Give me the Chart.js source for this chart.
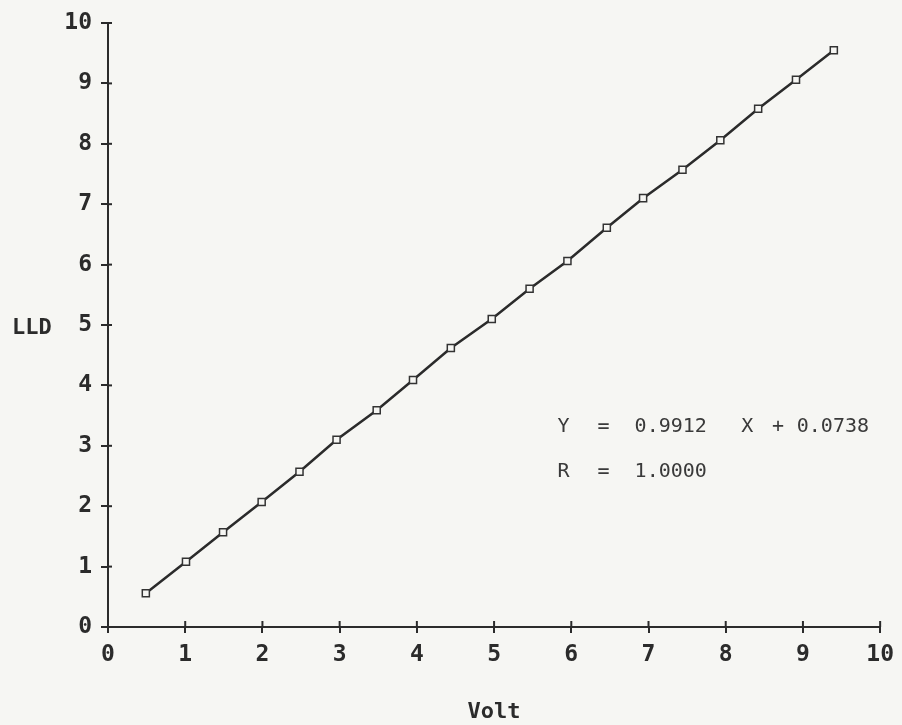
<!DOCTYPE html>
<html>
<head>
<meta charset="utf-8">
<script src="https://cdn.jsdelivr.net/npm/chart.js@4/dist/chart.umd.min.js"></script>
<style>
  html, body { margin: 0; padding: 0; background: #f6f6f3; }
  #wrap { width: 902px; height: 725px; position: relative; }
</style>
</head>
<body>
<div id="wrap"><canvas id="chart"></canvas></div>
<script>
// Volt vs LLD calibration points
const voltValues = [0.49, 1.01, 1.49, 1.99, 2.48, 2.96, 3.48, 3.95, 4.44, 4.97,
                    5.46, 5.95, 6.46, 6.93, 7.44, 7.93, 8.42, 8.91, 9.40];
const lldValues  = [0.56, 1.08, 1.57, 2.07, 2.57, 3.10, 3.59, 4.09, 4.62, 5.10,
                    5.60, 6.06, 6.61, 7.10, 7.57, 8.06, 8.58, 9.06, 9.55];
const tickValues = [0, 1, 2, 3, 4, 5, 6, 7, 8, 9, 10];

// fit result printed on the chart: [text, x value, y value]
const fitText = [
  ['Y', 5.82, 3.32], ['=', 6.34, 3.32], ['0.9912', 6.82, 3.32],
  ['X', 8.20, 3.32], ['+', 8.60, 3.32], ['0.0738', 8.92, 3.32],
  ['R', 5.82, 2.57], ['=', 6.34, 2.57], ['1.0000', 6.82, 2.57]
];

const ink = '#2b2b2b';
const tickFont = { family: 'DejaVu Sans Mono', size: 23, weight: 'bold' };

// inner half of the cross ticks, axis label LLD and the fit text
const extras = {
  id: 'extras',
  afterDraw(chart) {
    const ctx = chart.ctx;
    const xs = chart.scales.x, ys = chart.scales.y;
    ctx.save();
    ctx.strokeStyle = ink;
    ctx.lineWidth = 2;
    tickValues.forEach(v => {
      const px = xs.getPixelForValue(v);
      ctx.beginPath(); ctx.moveTo(px, xs.top); ctx.lineTo(px, xs.top - 6); ctx.stroke();
      const py = ys.getPixelForValue(v);
      ctx.beginPath(); ctx.moveTo(ys.right, py); ctx.lineTo(ys.right + 4, py); ctx.stroke();
    });

    ctx.fillStyle = ink;
    ctx.font = 'bold 22px "DejaVu Sans Mono"';
    ctx.textAlign = 'left';
    ctx.textBaseline = 'middle';
    ctx.fillText('LLD', 12, ys.getPixelForValue(5) + 3);

    ctx.fillStyle = '#3a3a3a';
    ctx.font = '20px "DejaVu Sans Mono"';
    fitText.forEach(([t, x, y]) => {
      ctx.fillText(t, xs.getPixelForValue(x), ys.getPixelForValue(y));
    });
    ctx.restore();
  }
};

new Chart(document.getElementById('chart'), {
  type: 'scatter',
  data: {
    datasets: [{
      data: voltValues.map((v, i) => ({ x: v, y: lldValues[i] })),
      showLine: true,
      borderColor: ink,
      borderWidth: 2.5,
      backgroundColor: '#f6f6f3',
      pointStyle: 'rect',
      pointRadius: 5,
      pointBorderWidth: 1.5,
      pointBorderColor: '#333'
    }]
  },
  options: {
    responsive: true,
    maintainAspectRatio: false,
    animation: false,
    layout: { padding: { top: 23, right: 21, left: 0, bottom: 0 } },
    plugins: { legend: { display: false }, tooltip: { enabled: false } },
    scales: {
      x: {
        type: 'linear',
        min: 0, max: 10,
        afterBuildTicks: s => { s.ticks = tickValues.map(v => ({ value: v })); },
        afterFit: s => { s.height = 98; },
        border: { display: true, color: ink, width: 2 },
        grid: { drawOnChartArea: false, drawTicks: true, tickLength: 6, color: ink, lineWidth: 2 },
        ticks: { color: ink, font: tickFont, padding: 8, maxRotation: 0 },
        title: {
          display: true, text: 'Volt', color: ink,
          font: { family: 'DejaVu Sans Mono', size: 22, weight: 'bold' },
          padding: { top: 0, bottom: 0 }
        }
      },
      y: {
        type: 'linear',
        min: 0, max: 10,
        afterBuildTicks: s => { s.ticks = tickValues.map(v => ({ value: v })); },
        afterFit: s => { s.width = 108; },
        border: { display: true, color: ink, width: 2 },
        grid: { drawOnChartArea: false, drawTicks: true, tickLength: 7, color: ink, lineWidth: 2 },
        ticks: { color: ink, font: tickFont, padding: 9 }
      }
    }
  },
  plugins: [extras]
});
</script>
</body>
</html>
